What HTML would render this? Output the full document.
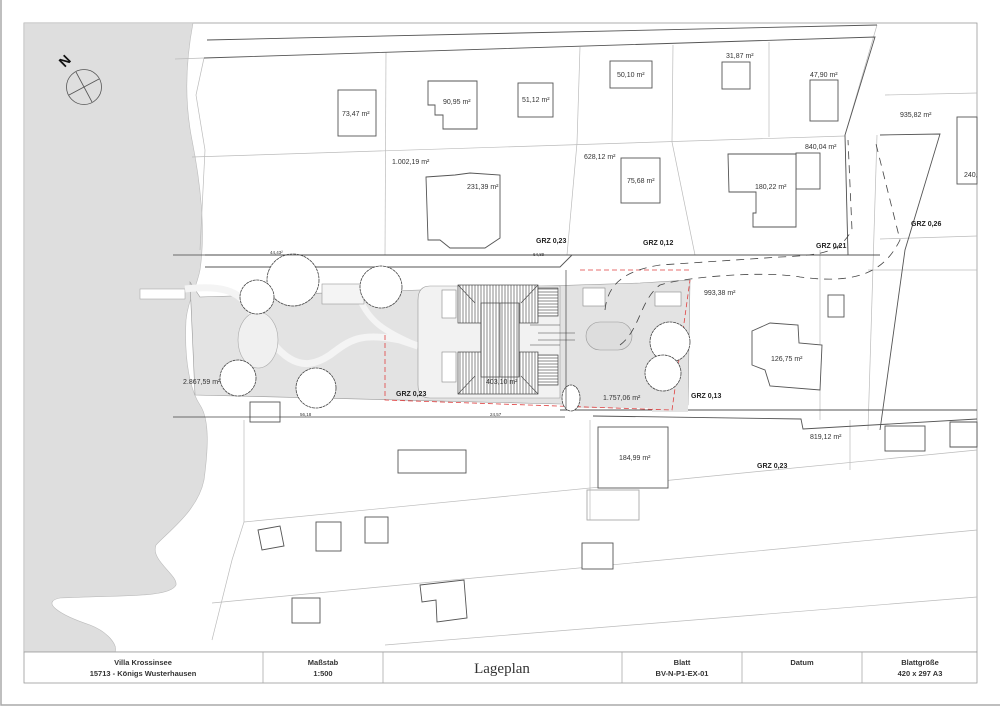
<!DOCTYPE html>
<html><head><meta charset="utf-8"><style>
html,body{margin:0;padding:0;background:#fff;}
svg{display:block;font-family:"Liberation Sans",sans-serif;}
.t{font-size:7px;fill:#333;}
.b{font-size:7px;font-weight:bold;fill:#222;font-family:"Liberation Sans Narrow","Liberation Sans",sans-serif;}
</style></head><body>
<svg width="1000" height="707" viewBox="0 0 1000 707" xmlns="http://www.w3.org/2000/svg">
<defs>
<pattern id="h" width="3" height="3" patternUnits="userSpaceOnUse"><rect width="3" height="3" fill="#fff"/><line x1="1" y1="0" x2="1" y2="3" stroke="#555" stroke-width="0.7"/></pattern>
<pattern id="hh" width="3" height="3" patternUnits="userSpaceOnUse"><rect width="3" height="3" fill="#fff"/><line x1="0" y1="1" x2="3" y2="1" stroke="#555" stroke-width="0.7"/></pattern>
</defs>
<rect width="1000" height="707" fill="#fff"/>
<!-- outer page frame -->
<path d="M1 0 V705 H1000" fill="none" stroke="#aaa" stroke-width="1.5"/>
<rect x="24" y="23" width="953" height="629" fill="#fff" stroke="#999" stroke-width="0.8"/>
<!-- lake -->
<path d="M24 23 H193 C186 60 184 100 192 140 C200 180 206 230 200 270 C196 290 188 300 186 320 C184 360 190 390 200 405 C210 420 208 450 204 480 C198 510 170 530 156 545 C150 560 178 575 176 585 C170 598 120 595 60 598 C40 602 60 615 90 625 C108 632 118 645 115 652 H24 Z" fill="#dedede" stroke="#bbb" stroke-width="0.6"/>
<!-- north arrow -->
<text x="58" y="64" font-size="14" font-weight="bold" transform="rotate(-45 66 58)" fill="#111">N</text>
<circle cx="84" cy="87" r="17.5" fill="none" stroke="#555" stroke-width="0.8"/>
<line x1="76" y1="72" x2="92" y2="102" stroke="#555" stroke-width="0.8"/>
<line x1="69" y1="95" x2="99" y2="79" stroke="#555" stroke-width="0.8"/>
<g fill="none" stroke="#bbb" stroke-width="0.7">
<path d="M204 58 L196 95 L205 150 L200 250"/>
<line x1="175" y1="59" x2="204" y2="58"/>
<line x1="192" y1="157" x2="845" y2="136"/>
<path d="M386 52 L385 255"/><path d="M580 47 L577 143 L567 255"/><path d="M673 45 L672 142 L695 255"/><path d="M769 42 L769 137"/>
<path d="M877 25 L845 135 L848 255"/>
<path d="M885 95 L977 93"/><path d="M877 135 L868 430"/>
<path d="M880 239 L977 236"/>
<path d="M868 270 L977 270"/>
<line x1="244" y1="522" x2="977" y2="450"/>
<line x1="212" y1="603" x2="977" y2="530"/>
<line x1="385" y1="645" x2="977" y2="597"/>
<path d="M244 420 L244 522 L232 560 L212 640"/>
<path d="M590 420 L590 520"/><path d="M850 420 L850 470"/>
<path d="M820 250 L820 420"/>
</g>
<!-- plot lines darker -->
<g fill="none" stroke="#555" stroke-width="0.9">
<path d="M207 40 L877 25"/><path d="M204 58 L875 37 L845 135 L848 255"/>
<path d="M205 255 H880"/>
<path d="M205 267 H560 L572 255"/>
<path d="M880 135 L940 134 L905 250 L880 430"/>
<path d="M593 416 L801 419 L803 429 L977 419"/>
<path d="M560 410 L977 410"/>
</g>
<!-- buildings top -->
<g fill="#fff" stroke="#555" stroke-width="0.9">
<rect x="338" y="90" width="38" height="46"/>
<path d="M428 81 H477 V129 H443 V115 H435 V105 H428 Z"/>
<rect x="518" y="83" width="35" height="34"/>
<rect x="610" y="61" width="42" height="27"/>
<rect x="722" y="62" width="28" height="27"/>
<rect x="810" y="80" width="28" height="41"/>
<path d="M426 177 L455 175 L470 173 L500 175 L500 238 L485 248 L450 248 L440 240 L428 240 Z"/>
<rect x="621" y="158" width="39" height="45"/>
<rect x="796" y="153" width="24" height="36"/>
<path d="M728 154 H796 V227 H753 V213 H756 V192 H729 Z"/>
<rect x="957" y="117" width="20" height="67"/>
<path d="M752 331 L770 323 L798 325 L799 343 L822 345 L820 390 L770 386 L765 370 L752 365 Z"/>
<rect x="828" y="295" width="16" height="22"/>
<rect x="598" y="427" width="70" height="61"/>
<rect x="587" y="490" width="52" height="30" fill="none" stroke="#aaa"/>
<rect x="398" y="450" width="68" height="23"/>
<path d="M258 530 L280 526 L284 546 L262 550 Z"/>
<rect x="316" y="522" width="25" height="29"/>
<rect x="365" y="517" width="23" height="26"/>
<rect x="582" y="543" width="31" height="26"/>
<rect x="292" y="598" width="28" height="25"/>
<path d="M420 585 L464 580 L467 618 L437 622 L436 600 L422 602 Z"/>
<rect x="885" y="426" width="40" height="25"/>
<path d="M950 422 H977 V447 H950 Z"/>
<rect x="250" y="402" width="30" height="20"/>
</g>
<!-- garden gray area -->
<path d="M190 282 L200 297 L640 283 L690 280 L688 405 L672 408 L560 404 L195 395 Z" fill="#e3e3e3" stroke="#999" stroke-width="0.6"/>
<rect x="140" y="289" width="45" height="10" fill="#fff" stroke="#aaa" stroke-width="0.6"/>
<path d="M185 289 C220 285 240 290 250 310" fill="none" stroke="#f4f4f4" stroke-width="7"/>
<path d="M250 310 C280 360 300 375 330 355 C350 340 360 332 400 340 L418 346" fill="none" stroke="#f4f4f4" stroke-width="7"/>
<path d="M360 300 C370 320 380 330 418 346" fill="none" stroke="#f4f4f4" stroke-width="6"/>
<ellipse cx="258" cy="340" rx="20" ry="28" fill="#f0f0f0" stroke="#aaa" stroke-width="0.6"/>
<rect x="322" y="284" width="42" height="20" fill="#f4f4f4" stroke="#999" stroke-width="0.6"/>
<!-- house platform -->
<path d="M430 286 H560 V398 H430 Q418 398 418 385 V300 Q418 286 430 286 Z" fill="#f2f2f2" stroke="#999" stroke-width="0.6"/>
<rect x="442" y="290" width="14" height="28" fill="#fff" stroke="#888" stroke-width="0.6"/>
<rect x="442" y="352" width="14" height="30" fill="#fff" stroke="#888" stroke-width="0.6"/>
<rect x="458" y="285" width="80" height="38" fill="url(#h)" stroke="#444" stroke-width="0.7"/>
<rect x="458" y="352" width="80" height="42" fill="url(#h)" stroke="#444" stroke-width="0.7"/>
<rect x="538" y="288" width="20" height="28" fill="url(#hh)" stroke="#444" stroke-width="0.7"/>
<rect x="538" y="355" width="20" height="30" fill="url(#hh)" stroke="#444" stroke-width="0.7"/>
<rect x="481" y="303" width="38" height="74" fill="url(#h)" stroke="#444" stroke-width="0.7"/>
<g stroke="#444" stroke-width="0.6" fill="none">
<path d="M458 285 L475 303 M538 285 L521 303 M458 394 L475 376 M538 394 L521 376 M481 303 V377 M500 303 V377 M519 303 V377"/>
<path d="M530 325 H560 M530 345 H560 M538 333 H575 M538 340 H575"/>
</g>
<text x="486" y="384" class="t">403,10 m²</text>
<!-- right of house -->
<rect x="583" y="288" width="22" height="18" fill="#fff" stroke="#888" stroke-width="0.6"/>
<rect x="656" y="293" width="28" height="15" fill="#fff" stroke="#888" stroke-width="0.6"/>
<rect x="652" y="290" width="36" height="122" fill="#e3e3e3" stroke="none"/>
<rect x="655" y="292" width="26" height="14" fill="#fff" stroke="#888" stroke-width="0.6"/>
<rect x="586" y="322" width="46" height="28" rx="14" fill="#ddd" stroke="#999" stroke-width="0.6"/>
<rect x="572" y="388" width="100" height="20" fill="#e3e3e3"/>
<text x="603" y="400" class="t">1.757,06 m²</text>
<!-- red dashed boundary -->
<g fill="none" stroke="#e04040" stroke-width="0.8" stroke-dasharray="5 3">
<path d="M385 335 V400 L672 410 L690 280"/>
<path d="M580 270 H690"/>
</g>
<!-- driveway dashed -->
<g fill="none" stroke="#444" stroke-width="0.8" stroke-dasharray="8 6">
<path d="M605 310 C608 280 630 270 660 265 L780 257 C830 255 840 250 852 230 L848 140"/>
<path d="M620 345 C640 330 640 300 660 285 C680 278 760 270 800 277 C860 285 885 270 900 240 L875 140"/>
</g>
<!-- trees -->
<g fill="#fff" stroke="#444" stroke-width="0.8" stroke-dasharray="3 0.6">
<circle cx="293" cy="280" r="26"/>
<circle cx="257" cy="297" r="17"/>
<circle cx="381" cy="287" r="21"/>
<circle cx="238" cy="378" r="18"/>
<circle cx="316" cy="388" r="20"/>
<circle cx="670" cy="342" r="20"/>
<circle cx="663" cy="373" r="18"/>
<ellipse cx="571" cy="398" rx="9" ry="13"/>
</g>
<!-- dimension lines -->
<g stroke="#444" stroke-width="0.7">
<line x1="173" y1="255" x2="560" y2="255"/>
<line x1="173" y1="417" x2="565" y2="417"/>
<line x1="566" y1="270" x2="566" y2="408"/>
</g>
<text x="270" y="254" font-size="4.5" fill="#333">44,43²</text>
<text x="533" y="256" font-size="4.5" fill="#333">64,89</text>
<text x="300" y="416" font-size="4.5" fill="#333">56,18</text>
<text x="490" y="416" font-size="4.5" fill="#333">24,57</text>
<!-- labels -->
<text x="342" y="116" class="t">73,47 m²</text>
<text x="443" y="104" class="t">90,95 m²</text>
<text x="522" y="102" class="t">51,12 m²</text>
<text x="617" y="77" class="t">50,10 m²</text>
<text x="726" y="58" class="t">31,87 m²</text>
<text x="810" y="77" class="t">47,90 m²</text>
<text x="392" y="164" class="t">1.002,19 m²</text>
<text x="467" y="189" class="t">231,39 m²</text>
<text x="584" y="159" class="t">628,12 m²</text>
<text x="627" y="183" class="t">75,68 m²</text>
<text x="755" y="189" class="t">180,22 m²</text>
<text x="805" y="149" class="t">840,04 m²</text>
<text x="900" y="117" class="t">935,82 m²</text>
<text x="964" y="177" class="t">240,</text>
<text x="704" y="295" class="t">993,38 m²</text>
<text x="771" y="361" class="t">126,75 m²</text>
<text x="183" y="384" class="t">2.867,59 m²</text>
<text x="619" y="460" class="t">184,99 m²</text>
<text x="810" y="439" class="t">819,12 m²</text>
<text x="536" y="243" class="b">GRZ 0,23</text>
<text x="643" y="245" class="b">GRZ 0,12</text>
<text x="816" y="248" class="b">GRZ 0,21</text>
<text x="911" y="226" class="b">GRZ 0,26</text>
<text x="396" y="396" class="b">GRZ 0,23</text>
<text x="691" y="398" class="b">GRZ 0,13</text>
<text x="757" y="468" class="b">GRZ 0,23</text>
<!-- title block -->
<rect x="24" y="652" width="953" height="31" fill="#fff" stroke="#999" stroke-width="0.8"/>
<g stroke="#aaa" stroke-width="0.8"><line x1="263" y1="652" x2="263" y2="683"/><line x1="383" y1="652" x2="383" y2="683"/><line x1="622" y1="652" x2="622" y2="683"/><line x1="742" y1="652" x2="742" y2="683"/><line x1="862" y1="652" x2="862" y2="683"/></g>
<g font-size="7.5" font-weight="bold" fill="#333" text-anchor="middle" font-family="Liberation Sans Narrow, Liberation Sans, sans-serif">
<text x="143" y="665">Villa Krossinsee</text><text x="143" y="676">15713 - Königs Wusterhausen</text>
<text x="323" y="665">Maßstab</text><text x="323" y="676">1:500</text>
<text x="682" y="665">Blatt</text><text x="682" y="676">BV-N-P1-EX-01</text>
<text x="802" y="665">Datum</text>
<text x="920" y="665">Blattgröße</text><text x="920" y="676">420 x 297 A3</text>
</g>
<text x="502" y="673" font-size="15" fill="#333" text-anchor="middle" font-family="Liberation Serif, serif">Lageplan</text>
</svg>
</body></html>
